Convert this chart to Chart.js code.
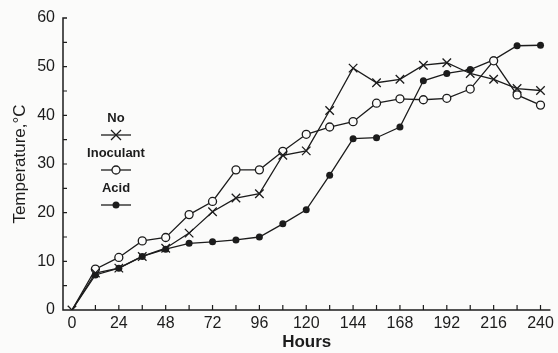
<!DOCTYPE html>
<html>
<head>
<meta charset="utf-8">
<script src="https://cdn.jsdelivr.net/npm/chart.js@4.4.0/dist/chart.umd.min.js"></script>
<style>
  html, body { margin: 0; padding: 0; background: #fbfbfa; }
  #wrap { width: 558px; height: 353px; }
</style>
</head>
<body>
<div id="wrap"><canvas id="chart" width="558" height="353"></canvas></div>
<script>
// hours after baling
const hours = [0, 12, 24, 36, 48, 60, 72, 84, 96, 108, 120, 132, 144, 156, 168, 180, 192, 204, 216, 228, 240];

// temperature, °C
const noInoculant = [0, 7.6, 8.6, 11.0, 12.7, 15.8, 20.2, 23.0, 23.9, 31.8, 32.7, 41.0, 49.7, 46.7, 47.4, 50.3, 50.8, 48.6, 47.4, 45.5, 45.1];
const inoculant   = [0, 8.4, 10.8, 14.2, 14.9, 19.6, 22.3, 28.8, 28.8, 32.6, 36.1, 37.6, 38.7, 42.5, 43.4, 43.2, 43.5, 45.4, 51.2, 44.2, 42.1];
const acid        = [0, 7.2, 8.6, 11.0, 12.5, 13.7, 14.0, 14.4, 15.0, 17.7, 20.6, 27.7, 35.2, 35.4, 37.6, 47.1, 48.6, 49.4, 51.4, 54.3, 54.4];

const xLabels = [0, 24, 48, 72, 96, 120, 144, 168, 192, 216, 240];
const yLabels = [0, 10, 20, 30, 40, 50, 60];
const yMinor  = [5, 15, 25, 35, 45, 55];

const ink = '#1c1c1c';
const paper = '#fbfbfa';

function pts(vals) {
    return hours.map((h, i) => ({ x: h, y: vals[i] }));
}

// hide the marker sitting on the origin for the round markers
const noOrigin = r => ctx => (ctx.dataIndex === 0 ? 0 : r);

// axes with inward ticks, like the printed figure
const axesPlugin = {
    id: 'axes',
    afterDatasetsDraw(chart) {
        const c = chart.ctx;
        const xs = chart.scales.x, ys = chart.scales.y;
        const a = chart.chartArea;
        c.save();
        c.strokeStyle = ink;
        c.lineWidth = 1.5;
        c.beginPath();
        c.moveTo(a.left + 4, a.top);
        c.lineTo(a.left, a.top);
        c.lineTo(a.left, a.bottom);
        c.lineTo(a.right, a.bottom);
        c.stroke();
        c.lineWidth = 1.2;
        c.beginPath();
        hours.forEach(h => {
            if (h === 0) return;
            const px = xs.getPixelForValue(h);
            c.moveTo(px, a.bottom);
            c.lineTo(px, a.bottom - 5);
        });
        yLabels.concat(yMinor).forEach(v => {
            if (v === 0 || v === 60) return;
            const py = ys.getPixelForValue(v);
            c.moveTo(a.left, py);
            c.lineTo(a.left + 4, py);
        });
        c.stroke();
        c.restore();
    }
};

function drawMarker(c, style, x, y) {
    c.beginPath();
    if (style === 'crossRot') {
        c.moveTo(x - 5, y - 5); c.lineTo(x + 5, y + 5);
        c.moveTo(x - 5, y + 5); c.lineTo(x + 5, y - 5);
        c.stroke();
    } else if (style === 'open') {
        c.arc(x, y, 4, 0, Math.PI * 2);
        c.fillStyle = paper; c.fill(); c.stroke();
    } else {
        c.arc(x, y, 3.5, 0, Math.PI * 2);
        c.fillStyle = ink; c.fill();
    }
}

// stacked legend inside the plot: label, then a line sample
const legendPlugin = {
    id: 'stackLegend',
    afterDraw(chart) {
        const c = chart.ctx;
        const cx = 116;
        const rows = [
            { label: chart.data.datasets[0].label, mark: 'crossRot', ty: 118, ly: 135 },
            { label: chart.data.datasets[1].label, mark: 'open', ty: 153, ly: 170 },
            { label: chart.data.datasets[2].label, mark: 'dot', ty: 188, ly: 205 }
        ];
        c.save();
        c.font = 'bold 13px "Liberation Sans", Arial, sans-serif';
        c.textAlign = 'center';
        c.textBaseline = 'middle';
        c.strokeStyle = ink;
        c.lineWidth = 1.3;
        rows.forEach(r => {
            c.fillStyle = ink;
            c.fillText(r.label, cx, r.ty);
            c.beginPath();
            c.moveTo(cx - 15, r.ly);
            c.lineTo(cx + 15, r.ly);
            c.stroke();
            drawMarker(c, r.mark, cx, r.ly);
        });
        c.restore();
    }
};

const tickFont = { family: '"Liberation Sans", Arial, sans-serif', size: 16 };

new Chart(document.getElementById('chart'), {
    type: 'line',
    data: {
        datasets: [
            {
                label: 'No',
                data: pts(noInoculant),
                borderColor: ink,
                borderWidth: 1.3,
                pointStyle: 'crossRot',
                pointRadius: 6,
                pointBorderWidth: 1.3,
                pointBorderColor: ink,
                pointBackgroundColor: ink
            },
            {
                label: 'Inoculant',
                data: pts(inoculant),
                borderColor: ink,
                borderWidth: 1.3,
                pointStyle: 'circle',
                pointRadius: noOrigin(4),
                pointBorderWidth: 1.3,
                pointBorderColor: ink,
                pointBackgroundColor: paper
            },
            {
                label: 'Acid',
                data: pts(acid),
                borderColor: ink,
                borderWidth: 1.3,
                pointStyle: 'circle',
                pointRadius: noOrigin(3.5),
                pointBorderWidth: 0,
                pointBackgroundColor: ink
            }
        ]
    },
    options: {
        responsive: false,
        animation: false,
        layout: { padding: { top: 18, right: 5, left: 0, bottom: 0 } },
        plugins: {
            legend: { display: false },
            tooltip: { enabled: false }
        },
        scales: {
            x: {
                type: 'linear',
                min: -4.6,
                max: 245.1,
                afterBuildTicks: s => { s.ticks = xLabels.map(v => ({ value: v })); },
                afterFit: s => { s.height = 43; },
                grid: { display: false, drawTicks: false },
                border: { display: false },
                ticks: { color: ink, font: tickFont, padding: 4, maxRotation: 0, autoSkip: false },
                title: {
                    display: true,
                    text: 'Hours',
                    color: ink,
                    font: { family: '"Liberation Sans", Arial, sans-serif', size: 17, weight: 'bold' },
                    padding: { top: 0, bottom: 0 }
                }
            },
            y: {
                min: 0,
                max: 60,
                afterBuildTicks: s => { s.ticks = yLabels.map(v => ({ value: v })); },
                afterFit: s => { s.width = 63; },
                grid: { display: false, drawTicks: false },
                border: { display: false },
                ticks: { color: ink, font: tickFont, padding: 8 },
                title: {
                    display: true,
                    text: 'Temperature,°C',
                    color: ink,
                    font: { family: '"Liberation Sans", Arial, sans-serif', size: 17 },
                    padding: { top: 10, bottom: 0 }
                }
            }
        }
    },
    plugins: [axesPlugin, legendPlugin]
});
</script>
</body>
</html>
